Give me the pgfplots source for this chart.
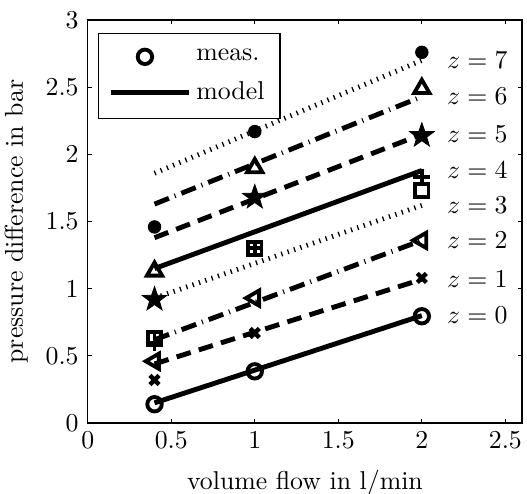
\documentclass[border=0pt]{standalone}
\usepackage{pgfplots}
\usepackage{pgfplotstable}
\pgfplotsset{compat=1.18}

% filled five-pointed star
\pgfdeclareplotmark{fstar}{%
  \pgfpathmoveto{\pgfpointpolar{90}{\pgfplotmarksize}}%
  \pgfpathlineto{\pgfpointpolar{126}{0.40\pgfplotmarksize}}%
  \pgfpathlineto{\pgfpointpolar{162}{\pgfplotmarksize}}%
  \pgfpathlineto{\pgfpointpolar{198}{0.40\pgfplotmarksize}}%
  \pgfpathlineto{\pgfpointpolar{234}{\pgfplotmarksize}}%
  \pgfpathlineto{\pgfpointpolar{270}{0.40\pgfplotmarksize}}%
  \pgfpathlineto{\pgfpointpolar{306}{\pgfplotmarksize}}%
  \pgfpathlineto{\pgfpointpolar{342}{0.40\pgfplotmarksize}}%
  \pgfpathlineto{\pgfpointpolar{18}{\pgfplotmarksize}}%
  \pgfpathlineto{\pgfpointpolar{54}{0.40\pgfplotmarksize}}%
  \pgfpathclose\pgfusepathqfillstroke}

% measured pressure difference (bar) over volume flow (l/min)
\pgfplotstableread{
q   z0    z1   z2   z3   z4   z5   z6   z7
0.4 0.14  0.32 0.46 0.63 0.60 0.92 1.13 1.46
1.0 0.385 0.67 0.93 1.30 1.30 1.68 1.90 2.17
2.0 0.795 1.08 1.36 1.73 1.83 2.14 2.49 2.76
}\meas

% model prediction
\pgfplotstableread{
q   z0   z1   z2   z3   z4   z5   z6   z7
0.4 0.15 0.44 0.62 0.93 1.15 1.38 1.63 1.86
2.0 0.80 1.07 1.36 1.62 1.88 2.15 2.43 2.70
}\model

\tikzset{
  ldash/.style={dash pattern=on 5.7pt off 3.3pt},
  ldashdot/.style={dash pattern=on 6pt off 2.4pt on 0.4pt off 2.4pt},
  ldot/.style={dash pattern=on 0.5pt off 2.1pt},
}

\begin{document}
\begin{tikzpicture}
\begin{axis}[
  scale only axis,
  width=168.4pt, height=156.2pt,
  xmin=0, xmax=2.6, ymin=0, ymax=3,
  xtick={0,0.5,1,1.5,2,2.5},
  ytick={0,0.5,1,1.5,2,2.5,3},
  tick align=inside,
  major tick length=1.7pt,
  tick style={black, line width=0.4pt},
  axis line style={line width=0.5pt},
  xlabel={volume flow in l/min},
  ylabel={pressure difference in bar},
  xlabel style={yshift=-1.5pt},
  legend style={at={(0.0237,0.968)}, anchor=north west,
    draw=black, line width=0.5pt, inner xsep=4pt, inner ysep=4pt,
    row sep=2.5pt},
  legend cell align=left,
  legend image code/.code={%
    \draw[mark repeat=2, mark phase=2, #1]
      plot coordinates {(0pt,0pt) (13pt,0pt) (30pt,0pt)};},
  every axis plot/.append style={black, line width=1.9pt},
  mark options={solid},
]
\coordinate (sw) at (rel axis cs:0,0);
\coordinate (ne) at (rel axis cs:1,1);

\addlegendimage{only marks, mark=o, mark size=2.8pt, line width=1.5pt}
\addlegendentry{meas.}
\addlegendimage{line width=1.9pt}
\addlegendentry{model}

% measurements
\addplot[only marks, mark=o, mark size=2.8pt, line width=1.5pt, forget plot]
  table[x=q, y=z0]{\meas};
\addplot[only marks, mark=x, mark size=2.5pt, line width=1.7pt, forget plot]
  table[x=q, y=z1]{\meas};
\addplot[only marks, mark=triangle, mark size=3.4pt, line width=1.5pt,
  mark options={rotate=90}, forget plot]
  table[x=q, y=z2]{\meas};
\addplot[only marks, mark=square, mark size=2.6pt, line width=1.5pt, forget plot]
  table[x=q, y=z3]{\meas};
\addplot[only marks, mark=+, mark size=3.3pt, line width=1.5pt, forget plot]
  table[x=q, y=z4]{\meas};
\addplot[only marks, mark=fstar, mark size=5.0pt, line width=0.3pt, forget plot]
  table[x=q, y=z5]{\meas};
\addplot[only marks, mark=triangle, mark size=3.4pt, line width=1.5pt, forget plot]
  table[x=q, y=z6]{\meas};
\addplot[only marks, mark=*, mark size=2.4pt, line width=0.4pt, forget plot]
  table[x=q, y=z7]{\meas};

% model lines with their labels
\addplot[forget plot] table[x=q, y=z0]{\model}
  node[pos=1, anchor=west, xshift=5.5pt] {$z=0$};
\addplot[ldash, forget plot] table[x=q, y=z1]{\model}
  node[pos=1, anchor=west, xshift=5.5pt] {$z=1$};
\addplot[ldashdot, forget plot] table[x=q, y=z2]{\model}
  node[pos=1, anchor=west, xshift=5.5pt] {$z=2$};
\addplot[ldot, forget plot] table[x=q, y=z3]{\model}
  node[pos=1, anchor=west, xshift=5.5pt] {$z=3$};
\addplot[forget plot] table[x=q, y=z4]{\model}
  node[pos=1, anchor=west, xshift=5.5pt] {$z=4$};
\addplot[ldash, forget plot] table[x=q, y=z5]{\model}
  node[pos=1, anchor=west, xshift=5.5pt] {$z=5$};
\addplot[ldashdot, forget plot] table[x=q, y=z6]{\model}
  node[pos=1, anchor=west, xshift=5.5pt] {$z=6$};
\addplot[ldot, forget plot] table[x=q, y=z7]{\model}
  node[pos=1, anchor=west, xshift=5.5pt] {$z=7$};
\end{axis}
\pgfresetboundingbox
\path[use as bounding box] ([xshift=-34.0pt, yshift=-27.3pt]sw) rectangle ([xshift=1.9pt, yshift=7.8pt]ne);
\end{tikzpicture}
\end{document}
